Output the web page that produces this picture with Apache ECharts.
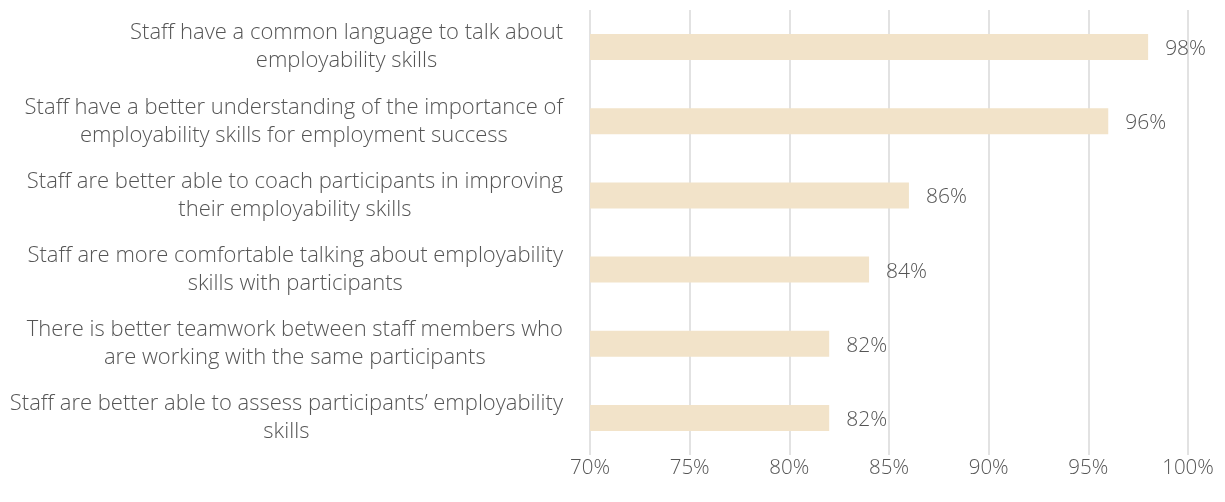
<!DOCTYPE html>
<html>
<head>
<meta charset="utf-8">
<script src="https://cdn.jsdelivr.net/npm/echarts@6/dist/echarts.min.js"></script>
<style>
  html, body { margin: 0; padding: 0; background: #ffffff; }
  #chart { width: 1225px; height: 502px; }
</style>
</head>
<body>
<div id="chart"></div>
<script>
// Survey statements (top to bottom) and share of staff agreeing, in percent
const categories = [
  'Staff have a common language to talk about\nemployability skills',
  'Staff have a better understanding of the importance of\nemployability skills for employment success',
  'Staff are better able to coach participants in improving\ntheir employability skills',
  'Staff are more comfortable talking about employability\nskills with participants',
  'There is better teamwork between staff members who\nare working with the same participants',
  'Staff are better able to assess participants\u2019 employability\nskills'
];
const values = [98, 96, 86, 84, 82, 82];
const tickMin = 70;
const tickMax = 100;
const tickStep = 5;

const FONT = '"Open Sans", "Segoe UI", sans-serif';
const TEXT = '#555555';

const chart = echarts.init(document.getElementById('chart'), null, { renderer: 'canvas' });

chart.setOption({
  backgroundColor: '#ffffff',
  animation: false,
  grid: { left: 590, right: 37, top: 10, bottom: 47, containLabel: false },
  xAxis: {
    type: 'value',
    min: tickMin,
    max: tickMax,
    interval: tickStep,
    axisLine: { show: false },
    axisTick: { show: false },
    splitLine: { show: true, lineStyle: { color: '#d9d9d9', width: 1.5 } },
    axisLabel: {
      formatter: '{value}%',
      color: TEXT,
      fontFamily: FONT,
      fontWeight: 300,
      fontSize: 20.5,
      margin: 3
    }
  },
  yAxis: {
    type: 'category',
    inverse: true,
    data: categories,
    axisLine: { show: false },
    axisTick: { show: false },
    splitLine: { show: false },
    axisLabel: {
      margin: 27,
      align: 'right',
      // each line centred within the right-aligned label block
      formatter: function (v) {
        return v.split('\n').map(function (l) { return '{c|' + l + '}'; }).join('\n');
      },
      rich: {
        c: {
          align: 'center',
          color: TEXT,
          fontFamily: FONT,
          fontWeight: 300,
          fontSize: 22,
          lineHeight: 28
        }
      }
    }
  },
  series: [{
    type: 'bar',
    data: values,
    barWidth: 26,
    itemStyle: { color: '#f2e3c9' },
    label: {
      show: true,
      position: 'right',
      distance: 17,
      offset: [0, 2],
      formatter: '{c}%',
      color: TEXT,
      fontFamily: FONT,
      fontWeight: 300,
      fontSize: 21
    }
  }]
});
</script>
</body>
</html>
